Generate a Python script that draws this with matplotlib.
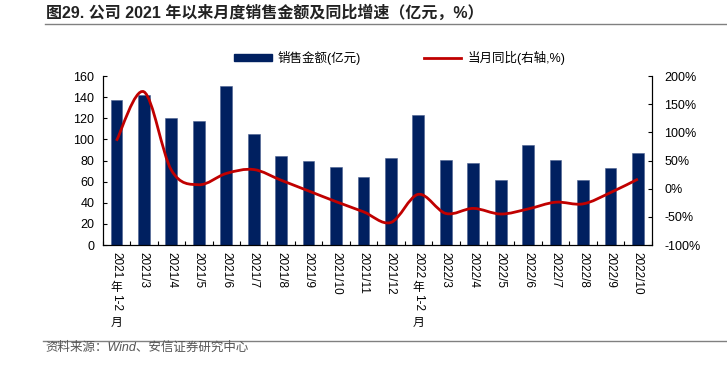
import matplotlib
matplotlib.use("Agg")
import matplotlib.pyplot as plt
from matplotlib.path import Path
from matplotlib.patches import PathPatch, Patch
from matplotlib.lines import Line2D
import numpy as np

plt.rcParams['font.family'] = ['Liberation Sans', 'Noto Sans CJK SC']

#----------------- DONNEES -----------------#
months = ['2021年1-2月', '2021/3', '2021/4', '2021/5', '2021/6', '2021/7', '2021/8',
          '2021/9', '2021/10', '2021/11', '2021/12', '2022年1-2月', '2022/3', '2022/4',
          '2022/5', '2022/6', '2022/7', '2022/8', '2022/9', '2022/10']
sales = [137, 142, 120, 117, 151, 105, 84.5, 80, 74, 64, 82,
         123, 80.5, 77.5, 61.5, 94.5, 80.5, 61.5, 73, 87]
yoy = [85, 172, 33, 7, 27, 34, 15, -4, -23, -41, -60,
       -10, -44, -35, -45, -36, -24, -27, -7, 17]

title = '图29. 公司 2021 年以来月度销售金额及同比增速（亿元，%）'
source = '资料来源：Wind、安信证券研究中心'
navy = '#002060'
red = '#C00000'


def smooth_path(x, y):
    # courbe lissee type Excel (Catmull-Rom -> Bezier)
    pts = np.column_stack([x, y]).astype(float)
    n = len(pts)
    verts = [pts[0]]
    codes = [Path.MOVETO]
    for i in range(n - 1):
        p0 = pts[max(i - 1, 0)]
        p1 = pts[i]
        p2 = pts[i + 1]
        p3 = pts[min(i + 2, n - 1)]
        verts += [p1 + (p2 - p0) / 6, p2 - (p3 - p1) / 6, p2]
        codes += [Path.CURVE4] * 3
    return Path(verts, codes)


#----------------- FIGURE -----------------#
fig = plt.figure(figsize=(7.27, 3.71), dpi=100)
ax = fig.add_axes([0.1413, 0.3396, 0.755, 0.4555])
ax2 = ax.twinx()

x = np.arange(len(months))
ax.bar(x, sales, width=0.43, color=navy, edgecolor='#4a5f8f', linewidth=0.4)
ax2.add_patch(PathPatch(smooth_path(x, yoy), fill=False, edgecolor=red, lw=2))

ax.set_xlim(-0.5, len(months) - 0.5)
ax.set_ylim(0, 160)
ax.set_yticks(range(0, 161, 20))
ax2.set_ylim(-100, 200)
ax2.set_yticks(range(-100, 201, 50))
ax2.set_yticklabels(['{}%'.format(v) for v in range(-100, 201, 50)])

for a in (ax, ax2):
    a.spines['top'].set_visible(False)
    for s in a.spines.values():
        s.set_linewidth(0.8)
ax.tick_params(axis='y', direction='in', length=3, width=0.8, labelsize=9, pad=6)
ax2.tick_params(axis='y', direction='in', length=3, width=0.8, labelsize=9, pad=9)

ax.set_xticks(x)
ax.set_xticklabels([])
ax.tick_params(axis='x', which='major', length=0)
ax.set_xticks(np.arange(-0.5, len(months), 1), minor=True)
ax.tick_params(axis='x', which='minor', direction='in', length=3, width=0.8)

fs = 8.5
for i, lab in enumerate(months):
    if '年' in lab:
        year, rest = lab.split('年')
        rest = rest.rstrip('月')
        pieces = [(year, 270, 4 * 0.556 * fs + 2.5), ('年', 0, fs + 0.5),
                  (rest, 270, 1.445 * fs + 4), ('月', 0, fs)]
    else:
        pieces = [(lab, 270, 0)]
    off = 5
    for txt, rot, h in pieces:
        ax.annotate(txt, xy=(i, 0), xycoords=('data', 'axes fraction'),
                    xytext=(0, -off), textcoords='offset points',
                    rotation=rot, ha='center', va='top', fontsize=fs)
        off += h

handles = [Patch(color=navy), Line2D([], [], color=red, lw=2)]
fig.legend(handles, ['销售金额(亿元)', '当月同比(右轴,%)'], loc='center',
           bbox_to_anchor=(0.55, 0.844), ncol=2, frameon=False, fontsize=9,
           handlelength=3, handleheight=0.6, columnspacing=5, handletextpad=0.5)

fig.text(0.063, 0.965, title, fontsize=11.5, fontweight='bold', color='#222222', va='center')
fig.add_artist(Line2D([45 / 727, 1], [1 - 23.5 / 371] * 2, color='#808080', lw=1))
fig.add_artist(Line2D([43 / 727, 1], [1 - 341 / 371] * 2, color='#808080', lw=1))
fig.text(0.062, 1 - 348 / 371, source, fontsize=9, color='#555555', style='italic', va='center')

fig.savefig('out.png', dpi=100)
